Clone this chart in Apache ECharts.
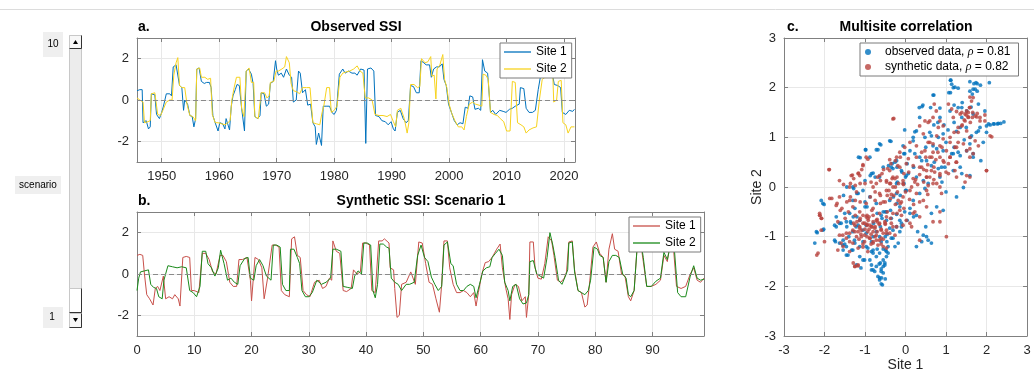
<!DOCTYPE html>
<html>
<head>
<meta charset="utf-8">
<script src="https://cdn.jsdelivr.net/npm/echarts@6/dist/echarts.min.js"></script>
<style>
  html, body { margin: 0; padding: 0; background: #fff; }
  #chart { width: 1034px; height: 371px; }
</style>
</head>
<body>
<div id="chart"></div>
<script>
// observed SSI, [year, value]
const obsSite1 = [[1945.7,0.45],[1946.2,0.5],[1946.6,0.5],[1946.75,-1.1],[1947.3,-1.0],[1947.7,-1.4],[1948.0,-1.3],[1948.2,0.3],[1948.8,0.25],[1949.1,-0.7],[1949.6,-0.9],[1950.0,-0.6],[1950.3,-0.3],[1950.8,0.3],[1951.4,0.3],[1951.7,0.2],[1952.0,1.6],[1952.5,1.7],[1952.8,1.75],[1953.1,0.7],[1953.5,0.6],[1953.8,-0.5],[1954.0,0.0],[1954.5,-0.2],[1954.9,-0.75],[1955.3,-0.8],[1955.6,-1.3],[1955.9,-0.9],[1956.1,1.5],[1956.5,1.55],[1956.9,0.9],[1957.4,0.8],[1957.8,0.85],[1958.3,0.85],[1958.6,0.6],[1958.9,-0.75],[1959.3,-1.1],[1959.8,-1.5],[1960.1,-1.1],[1960.6,-1.15],[1961.0,-1.4],[1961.2,-0.9],[1961.8,-1.45],[1962.1,-0.3],[1962.4,0.2],[1962.8,0.5],[1963.1,0.75],[1963.5,0.7],[1963.9,-0.4],[1964.4,-1.5],[1964.7,1.4],[1965.1,1.5],[1965.6,1.25],[1965.9,0.8],[1966.2,-0.8],[1966.7,-0.9],[1967.1,-0.75],[1967.3,0.35],[1967.8,0.3],[1968.2,-0.3],[1968.6,-0.2],[1968.9,0.8],[1969.4,0.9],[1969.8,1.9],[1970.0,1.5],[1970.3,1.2],[1970.8,1.3],[1971.2,1.1],[1971.7,1.5],[1972.2,1.2],[1972.6,1.1],[1972.9,-0.1],[1973.4,0.0],[1973.8,1.4],[1974.1,1.3],[1974.5,0.35],[1975.0,0.5],[1975.4,-0.25],[1975.9,-0.2],[1976.3,-1.1],[1976.7,-1.3],[1976.9,-2.15],[1977.3,-1.6],[1977.8,-2.2],[1978.1,-0.3],[1978.6,-0.3],[1979.2,-0.3],[1979.6,-0.6],[1980.0,-0.7],[1980.4,-0.5],[1980.9,1.25],[1981.5,1.5],[1981.9,1.3],[1982.5,1.4],[1983.1,1.3],[1983.6,1.3],[1984.0,1.2],[1984.6,1.5],[1985.2,1.45],[1985.5,-2.1],[1985.8,1.5],[1986.4,1.55],[1986.9,1.4],[1987.2,-0.75],[1987.8,-0.8],[1988.3,-1.0],[1988.9,-1.05],[1989.4,-1.2],[1989.9,-1.05],[1990.3,-1.4],[1990.6,-1.5],[1991.0,-0.6],[1991.5,-0.5],[1992.0,-0.9],[1992.5,-1.1],[1992.9,-1.0],[1993.3,0.7],[1993.8,0.65],[1994.3,0.35],[1994.8,0.35],[1995.1,1.9],[1995.6,1.8],[1996.0,1.7],[1996.6,1.7],[1996.9,1.1],[1997.3,1.5],[1997.8,1.6],[1998.3,1.6],[1998.8,1.75],[1999.1,1.0],[1999.5,0.7],[1999.9,-0.2],[2000.4,-0.6],[2000.9,-1.0],[2001.4,-1.2],[2001.9,-1.1],[2002.4,-1.15],[2002.8,-0.35],[2003.3,-0.4],[2003.6,0.2],[2004.1,0.15],[2004.5,-0.45],[2005.1,-0.4],[2005.5,-0.5],[2005.8,1.95],[2006.2,1.4],[2006.7,1.3],[2007.2,-0.6],[2007.6,-0.5],[2008.1,-0.7],[2008.8,-0.5],[2009.4,-0.55],[2009.9,-0.6],[2010.5,-0.45],[2011.0,-0.4],[2011.5,-0.3],[2012.2,-0.2],[2012.4,0.6],[2013.0,0.55],[2013.4,-0.4],[2013.9,-0.6],[2014.5,-0.6],[2015.0,-0.5],[2015.5,0.5],[2015.9,1.15],[2016.6,1.2],[2017.2,1.5],[2017.6,1.9],[2018.0,1.2],[2018.3,0.75],[2018.9,0.7],[2019.4,0.6],[2019.7,-0.6],[2020.3,-0.7],[2020.9,-0.5],[2021.5,-0.55],[2021.8,-0.45]];
const obsSite2 = [[1945.7,0.1],[1946.2,0.0],[1946.75,-0.1],[1947.0,-1.1],[1947.6,-1.05],[1948.0,-1.0],[1948.2,0.3],[1948.8,0.35],[1949.1,0.3],[1949.3,-0.7],[1949.8,-0.75],[1950.2,-0.5],[1950.8,-0.1],[1951.4,0.0],[1951.8,0.0],[1952.1,1.2],[1952.5,1.8],[1952.8,2.05],[1953.1,0.7],[1953.5,0.6],[1954.0,0.6],[1954.4,-0.2],[1954.9,-0.75],[1955.4,-0.8],[1955.9,-1.0],[1956.1,1.5],[1956.6,1.55],[1956.9,1.1],[1957.5,1.1],[1958.0,1.0],[1958.5,1.05],[1958.8,-0.7],[1959.3,-1.1],[1959.8,-1.1],[1960.4,-1.15],[1961.0,-1.2],[1961.5,-1.1],[1961.9,-1.0],[1962.2,0.0],[1962.6,0.6],[1963.0,1.1],[1963.6,1.1],[1963.9,-0.4],[1964.3,-0.8],[1964.7,1.4],[1965.2,1.55],[1965.6,0.85],[1966.0,0.85],[1966.2,-0.8],[1966.8,-0.9],[1967.1,-0.9],[1967.3,0.35],[1967.9,0.35],[1968.3,0.1],[1968.7,0.2],[1968.9,0.85],[1969.5,0.9],[1969.9,1.4],[1970.3,1.4],[1970.9,1.5],[1971.4,1.6],[1971.7,2.1],[1972.2,1.8],[1972.5,0.8],[1972.9,0.45],[1973.5,0.4],[1974.0,0.3],[1974.5,0.6],[1975.2,0.6],[1975.8,0.6],[1976.3,-1.1],[1976.9,-1.15],[1977.5,-1.2],[1977.9,-0.6],[1978.2,-0.3],[1978.7,0.6],[1979.2,0.6],[1979.5,-0.6],[1980.0,-0.5],[1980.5,-0.3],[1981.0,1.1],[1981.5,1.3],[1982.0,1.35],[1982.7,1.4],[1983.4,1.5],[1984.0,1.65],[1984.5,1.4],[1985.0,1.3],[1985.4,0.1],[1986.0,0.1],[1986.6,0.0],[1987.1,-0.7],[1987.8,-0.75],[1988.5,-0.75],[1989.2,-0.8],[1989.8,-0.7],[1990.3,-1.05],[1990.7,-1.3],[1991.0,-0.5],[1991.6,-0.4],[1992.2,-0.9],[1992.7,-1.6],[1993.0,-1.1],[1993.3,0.75],[1993.9,0.75],[1994.5,0.6],[1994.9,0.65],[1995.2,2.0],[1995.8,1.8],[1996.3,1.85],[1996.8,2.1],[1997.0,1.15],[1997.4,1.2],[1997.7,0.05],[1997.9,1.5],[1998.4,1.7],[1998.9,2.2],[1999.2,1.0],[1999.6,0.6],[2000.0,-0.2],[2000.4,-0.6],[2001.0,-1.0],[2001.6,-1.3],[2002.2,-1.3],[2002.6,-1.45],[2003.0,-0.8],[2003.5,-0.2],[2004.1,-0.1],[2004.6,-0.2],[2005.2,-0.25],[2005.7,-0.3],[2005.9,1.25],[2006.4,1.2],[2006.8,1.0],[2007.2,-0.6],[2007.8,-0.7],[2008.4,-0.75],[2008.9,-0.9],[2009.5,-1.05],[2010.0,-1.5],[2010.6,-1.5],[2011.0,0.9],[2011.5,0.85],[2011.9,-1.1],[2012.5,-1.2],[2013.0,-1.3],[2013.4,-1.6],[2013.9,-1.45],[2014.6,-1.35],[2015.2,-1.3],[2015.7,0.0],[2016.2,1.0],[2016.7,1.1],[2017.2,1.5],[2017.6,2.2],[2018.0,1.5],[2018.2,-0.1],[2018.7,0.0],[2019.0,0.9],[2019.5,0.95],[2019.8,-1.1],[2020.3,-1.2],[2020.7,-1.6],[2021.2,-1.3],[2021.8,-1.3]];

// synthetic SSI, scenario 1, [year index, value]
const synSite1 = [[0,0.9],[0.5,0.95],[1.0,0.9],[1.3,0.0],[1.7,-1.0],[2.2,-1.2],[2.8,-1.5],[3.2,-0.7],[3.6,-0.6],[4.0,-0.8],[4.6,-0.1],[5.0,-1.2],[5.6,-1.1],[6.2,-1.2],[6.6,-1.0],[7.2,-1.2],[7.5,-1.55],[8.0,0.8],[8.6,0.85],[9.2,0.8],[9.5,-0.8],[10.0,-0.8],[10.8,-0.9],[11.4,1.0],[12.0,1.0],[12.6,0.7],[13.2,0.1],[13.8,0.0],[14.5,0.9],[15.0,0.9],[15.6,0.6],[16.2,-0.4],[16.8,-0.6],[17.4,-0.6],[17.8,0.7],[18.4,0.7],[19.2,0.8],[19.8,-0.3],[20.0,-1.3],[20.6,0.8],[21.2,0.7],[21.8,0.3],[22.2,-1.2],[22.8,-0.2],[23.6,1.4],[24.2,1.4],[24.8,1.3],[25.2,-0.8],[25.8,-1.0],[26.6,-1.1],[27.0,1.7],[27.5,1.8],[28.0,0.9],[28.5,0.8],[29.0,-0.8],[29.6,-1.0],[30.2,-1.1],[31.0,-0.4],[31.8,-0.3],[32.4,-0.7],[33.0,-0.6],[33.6,-0.2],[34.0,-0.3],[34.2,1.6],[34.8,1.1],[35.4,1.0],[36.0,-0.8],[36.6,-0.85],[37.4,-0.7],[37.8,0.2],[38.4,0.0],[39.0,0.1],[39.4,1.5],[40.0,1.5],[40.6,1.4],[41.0,-0.8],[41.6,-0.9],[42.2,1.6],[42.8,1.6],[43.2,1.7],[44.0,1.5],[44.2,0.3],[44.8,0.2],[45.0,-0.7],[45.4,-2.1],[45.8,-2.0],[46.2,-0.5],[47.0,-0.4],[47.8,0.1],[48.6,-0.5],[49.2,1.55],[49.8,1.5],[50.4,0.5],[51.0,-0.4],[51.6,-0.5],[52.2,-1.2],[52.8,-1.85],[53.2,-0.5],[53.6,1.6],[54.2,1.6],[54.6,0.3],[55.2,-0.5],[55.8,-0.9],[56.4,-0.9],[57.0,-0.8],[57.6,-0.9],[58.2,-1.1],[58.8,-0.9],[59.2,-1.55],[59.6,-0.9],[60.2,0.0],[60.8,0.55],[61.4,0.6],[62.0,0.8],[62.8,1.2],[63.4,1.45],[63.8,0.3],[64.4,-0.7],[64.8,-1.2],[65.1,-2.2],[65.4,-1.0],[66.0,-0.5],[66.6,-0.6],[67.2,-1.3],[67.8,-1.1],[68.0,-2.1],[68.4,-1.0],[68.6,1.55],[69.2,1.55],[69.5,0.3],[70.0,-0.2],[70.6,-0.25],[71.2,0.5],[71.8,1.8],[72.4,1.6],[72.8,0.9],[73.4,-0.3],[74.0,-0.4],[74.6,-0.2],[75.0,0.1],[75.4,1.55],[76.0,1.6],[76.4,0.2],[77.0,-0.8],[77.6,-0.9],[78.2,-1.6],[78.6,-1.5],[79.0,-0.5],[79.6,1.3],[80.2,1.55],[80.8,1.0],[81.4,0.8],[81.9,-0.4],[82.4,1.2],[83.0,1.95],[83.4,1.2],[84.0,1.1],[84.6,0.0],[85.2,-0.1],[85.8,-1.1],[86.2,-1.3],[86.8,-0.8],[87.4,1.6],[87.9,1.6],[88.4,0.6],[89.0,-0.6],[89.8,-0.6],[90.6,-0.5],[91.4,-0.3],[92.0,0.9],[92.6,0.6],[93.2,1.8],[93.6,1.5],[94.2,-0.6],[95.0,-0.7],[95.8,-0.6],[96.6,0.0],[97.2,0.3],[97.8,-0.3],[98.4,-0.4],[99.0,-0.2]];
const synSite2 = [[0,-0.8],[0.3,-0.2],[0.6,0.1],[1.3,0.15],[2.0,0.2],[2.4,-0.5],[2.9,-0.65],[3.4,-0.7],[3.8,-1.1],[4.4,-1.2],[4.7,-0.3],[5.0,0.0],[5.4,0.4],[6.2,0.35],[7.0,0.3],[7.8,0.35],[8.6,0.3],[9.2,-0.8],[9.8,-0.9],[10.4,-1.1],[11.0,-0.6],[11.4,1.1],[12.0,1.1],[12.4,0.5],[13.0,0.3],[13.6,-0.1],[14.2,0.3],[14.6,1.15],[15.2,0.5],[15.8,-0.3],[16.4,-0.2],[17.0,-0.4],[17.6,-0.5],[18.0,0.4],[18.8,0.75],[19.4,0.8],[19.8,-0.2],[20.4,-0.3],[20.8,0.4],[21.4,0.7],[22.0,0.4],[22.6,-0.1],[23.4,-0.3],[23.8,1.4],[24.4,1.4],[25.0,1.3],[25.4,-0.5],[26.0,-0.8],[26.6,-0.8],[26.8,1.2],[27.4,1.2],[28.0,0.8],[28.4,0.5],[28.8,-0.8],[29.4,-1.1],[30.0,-1.1],[30.6,-0.9],[31.4,-0.3],[32.2,-0.5],[33.0,-0.4],[33.8,-0.2],[34.2,1.2],[34.8,1.2],[35.6,1.1],[36.0,-0.6],[36.8,-0.65],[37.6,-0.7],[38.0,-0.1],[38.6,0.15],[39.2,0.0],[39.6,1.5],[40.2,1.5],[40.8,1.4],[41.2,-0.8],[41.6,-1.15],[42.0,-0.5],[42.4,1.45],[43.0,1.45],[43.6,1.3],[44.0,1.25],[44.4,-0.2],[45.0,-0.4],[45.6,-0.5],[46.2,-0.8],[47.0,-0.5],[47.6,-0.5],[48.4,-0.4],[49.0,0.9],[49.6,1.4],[50.2,0.8],[50.8,0.6],[51.4,-0.15],[52.0,-0.5],[52.6,-0.8],[53.2,-0.6],[53.6,1.4],[54.2,1.55],[54.8,0.5],[55.2,0.4],[55.8,-0.5],[56.4,-0.8],[57.0,-0.8],[57.6,-0.6],[58.2,-0.5],[58.8,-0.6],[59.2,-1.15],[59.8,-0.5],[60.4,0.15],[61.0,0.3],[61.6,0.35],[62.0,0.8],[62.6,1.0],[63.2,1.2],[63.8,0.9],[64.2,-0.4],[64.8,-0.8],[65.1,-1.3],[65.6,-0.6],[66.2,-0.5],[66.8,-1.2],[67.4,-1.45],[68.0,-1.4],[68.4,-1.0],[68.6,0.6],[69.2,0.65],[69.8,0.0],[70.4,-0.1],[71.0,-0.2],[71.6,0.8],[72.1,2.0],[72.6,1.4],[73.0,0.8],[73.6,-0.3],[74.2,-0.5],[74.8,-0.1],[75.2,0.2],[75.4,1.5],[76.0,1.55],[76.4,0.1],[77.0,-0.8],[77.6,-0.9],[78.2,-1.0],[78.8,-0.8],[79.2,-0.3],[79.8,1.3],[80.4,1.2],[80.8,0.9],[81.4,0.8],[81.9,-0.4],[82.4,0.6],[83.0,0.9],[83.6,0.9],[84.2,0.8],[84.8,0.0],[85.4,-0.2],[85.8,-1.0],[86.2,-1.1],[86.8,-0.8],[87.4,1.6],[88.0,1.5],[88.4,0.8],[89.0,-0.6],[89.8,-0.6],[90.6,-0.35],[91.4,-0.2],[92.0,1.05],[92.6,0.7],[93.4,1.7],[93.8,1.3],[94.4,-0.9],[95.0,-1.1],[95.8,-1.1],[96.6,-0.1],[97.2,0.4],[97.8,-0.2],[98.4,-0.3],[99.0,-0.25]];

// multisite scatter, [site 1, site 2]
const obsPairs = [[1.11,2.15],[1.59,2.12],[1.74,2.1],[2.07,2.1],[1.3,1.99],[1.07,1.9],[0.7,1.85],[1.67,1.97],[1.77,1.93],[0.41,1.62],[0.62,1.6],[0.85,1.59],[1.1,1.53],[1.51,1.53],[1.96,1.53],[0.35,1.4],[0.85,1.4],[1.39,1.4],[1.67,1.47],[2.05,1.27],[2.17,1.27],[2.29,1.28],[2.43,1.31],[-0.02,1.15],[0.27,1.13],[1.84,1.2],[-0.39,0.93],[0.19,1.0],[0.48,1.0],[1.0,0.9],[1.59,0.87],[1.92,0.9],[-0.64,0.87],[-0.98,0.75],[-0.72,0.75],[-1.16,0.6],[-0.88,0.6],[1.18,0.67],[1.35,0.63],[1.67,0.67],[-0.26,0.5],[-0.02,0.67],[0.11,0.73],[0.4,0.53],[0.71,0.5],[-0.55,0.4],[-0.31,0.37],[0.07,0.27],[0.89,0.4],[1.35,0.4],[1.59,0.23],[-0.84,0.27],[-0.64,0.2],[-1.0,0.13],[-1.3,0.0],[-0.22,0.07],[0.85,0.2],[1.43,-0.01],[1.26,-0.2],[0.64,-0.53],[0.77,-0.4],[0.93,-0.47],[-2.08,-0.27],[-2.04,-0.33],[-2.2,-0.9],[-2.24,-1.13],[-2.04,-0.87],[-1.75,-1.07],[-1.63,-1.13],[-1.54,-1.27],[-1.46,-1.37],[-1.3,-1.27],[-1.13,-1.4],[-1.01,-1.47],[-1.1,-1.63],[-0.84,-1.57],[-0.8,-1.67],[-0.72,-1.6],[-0.68,-1.8],[-0.59,-1.83],[-0.57,-1.97],[-0.55,-1.73],[-0.51,-1.53],[-0.47,-1.4],[-0.47,-1.3],[-0.43,-1.2],[-0.55,-1.47],[-0.64,-1.33],[-0.72,-1.4],[-0.84,-1.3],[-0.97,-1.2],[-1.25,-1.13],[-1.54,-1.07],[-1.71,-0.8],[-1.63,-0.73],[-1.38,-0.53],[-1.25,-0.43],[-1.3,-0.27],[-1.17,-0.13],[-1.05,-0.07],[-0.88,-0.2],[-0.72,-0.33],[-0.55,-0.5],[-0.47,-0.67],[-0.31,-0.87],[-0.22,-0.8],[-0.14,-0.67],[-0.02,-0.5],[0.11,-0.43],[0.19,-0.27],[0.35,-0.13],[0.48,-0.03],[0.52,-1.0],[0.56,-1.07],[0.64,-1.13],[0.44,-0.97],[0.4,-1.1],[0.27,-1.2],[-0.22,-0.13],[-0.39,-0.27],[-0.14,-0.4],[0.02,-0.07],[-1.13,-0.67],[-0.97,-0.77],[-1.22,-0.8],[-1.71,-0.6],[-0.64,-1.0],[-0.35,-1.03],[-0.26,-1.2],[-0.97,-0.93],[-0.6,-1.1],[-0.55,-1.25],[-0.5,-1.0],[-0.45,-0.95],[-0.65,-1.55],[-0.6,-1.65],[-0.5,-1.85],[-0.55,-1.6],[-0.7,-1.25],[-0.8,-1.0],[-1.4,-1.0],[-1.5,-1.15],[-1.3,-0.9],[-1.2,-0.6],[-1.0,-0.4],[-0.3,-0.2],[-0.2,0.1],[0.0,0.2],[0.2,0.4],[0.35,0.6],[0.5,0.8],[0.6,1.1],[0.7,1.25],[0.8,1.3],[0.95,1.25],[1.05,1.15],[1.2,1.3],[1.3,1.6],[1.4,1.7],[1.5,1.2],[1.6,1.0],[1.75,1.1],[0.9,0.1],[1.0,-0.1],[0.3,-0.9],[0.5,-0.8],[0.2,-0.6],[-0.1,-0.8],[1.2,0.8],[1.45,0.95],
  [-0.36,0.92],[-0.61,0.85],[-0.99,0.75],[-1.12,0.59],[-0.68,0.75],[-0.06,0.83],[-0.04,0.67],[-0.33,0.47],[-0.42,0.43],[-0.21,0.4],[0.04,0.47],[-0.8,0.28],[-0.87,0.23],[-0.75,0.2],[-0.09,0.3],[-0.04,0.07],[-1.45,0.0],[-1.28,-0.03],[-1.2,-0.13],[-1.53,-0.17],[-2.01,-0.35],[-1.0,-0.3],[-0.95,-0.4],[-0.7,-0.53],[-0.58,-0.63],[-0.5,-0.5],[-0.37,-0.47],[-0.21,-0.33],[-0.13,-0.17],[0.0,-0.07],[-1.36,-0.7],[-1.45,-0.8],[-2.02,-0.85],[-0.79,-0.73],[-0.62,-0.8],[0.04,-0.67],
  [1.12,2.15],[1.14,2.07],[1.18,2.0],[1.22,2.01],[1.69,2.08],[1.77,2.08],[1.85,2.05],[0.68,1.85],[1.11,1.9],[1.59,1.93],[1.65,1.87],[1.72,1.97],[0.43,1.65],[0.34,1.6],[1.2,1.65],[1.39,1.6],[1.62,1.61],[1.8,1.67],[2.0,1.23],[2.09,1.25],[2.19,1.27],[2.27,1.27],[2.35,1.28],[0.23,1.11],[0.19,0.93],[0.64,1.03],[0.81,1.0],[0.93,1.07],[1.26,1.12],[1.35,1.2],[1.63,1.03],[1.8,1.13],[2.0,1.1],[0.68,0.83],[0.77,0.77],[0.93,0.73],[1.14,0.67],[1.3,0.7],[1.51,0.73],[1.67,0.6],[1.86,0.53],[0.23,0.67],[0.52,0.53],[0.64,0.43],[0.81,0.37],[0.97,0.4],[1.18,0.33],[1.39,0.27],[-0.22,0.53],[-0.35,0.4],[-0.1,0.33],[0.02,0.23],[0.27,0.2],[0.44,0.13],[0.56,0.07],
  [-2.18,-0.92],[-1.75,-0.77],[-1.73,-1.1],[-1.55,-1.17],[-1.46,-1.2],[-1.42,-1.37],[-1.33,-1.27],[-1.26,-1.07],[-1.13,-1.2],[-1.05,-1.47],[-1.21,-1.57],[-0.88,-1.47],[-0.84,-1.67],[-0.76,-1.7],[-0.64,-1.83],[-0.6,-1.7],[-0.51,-1.57],[-0.43,-1.33],[-0.46,-1.1],[-0.49,-1.27],[-0.62,-1.53],[-0.8,-1.33],[-0.6,-1.95],[-0.64,-1.87],[-0.8,-1.27],[-0.93,-1.23],[-1.05,-1.1],[-0.31,-1.03],[-0.18,-1.13],[-0.14,-0.9],[-0.1,-0.73],[-0.39,-0.83],[-0.72,-0.9],[-0.84,-1.1],[-1.46,-0.7],[-1.59,-0.73],[-1.29,-0.6],[-1.5,-0.53],[-1.34,-0.73],[-1.17,-0.77],[-1.05,-0.87],[-0.6,-0.57],[-0.47,-0.5],[-0.35,-0.63],[-0.22,-0.55],[0.11,-0.53],[0.27,-0.57]];
const synPairs = [[-0.31,1.37],[0.56,1.3],[0.85,1.33],[1.18,1.4],[1.35,1.47],[1.59,1.6],[1.67,1.8],[1.51,1.53],[1.55,1.41],[1.76,1.41],[1.84,1.33],[1.96,1.45],[2.13,1.01],[2.0,0.33],[0.77,1.03],[0.93,0.97],[0.68,0.87],[0.85,0.83],[1.01,0.73],[1.26,0.8],[1.51,0.73],[1.67,0.67],[1.59,0.6],[0.48,0.73],[0.27,0.6],[0.02,0.47],[-0.14,0.4],[-0.39,0.33],[-0.64,0.23],[-0.97,0.6],[-1.05,0.43],[-1.17,0.27],[-1.34,0.23],[-1.63,0.13],[-1.89,0.35],[0.4,0.4],[0.64,0.33],[0.85,0.27],[1.06,0.47],[1.22,0.33],[0.52,0.2],[0.19,0.17],[-0.06,0.13],[-0.31,0.2],[-0.47,0.1],[-0.72,0.07],[0.77,0.07],[0.56,0.03],[1.51,0.23],[1.59,0.2],[-2.12,-0.53],[-2.08,-0.63],[-1.87,-0.23],[-1.71,-0.37],[-1.63,-0.2],[-2.19,-1.37],[-2.0,-1.1],[-1.67,-1.27],[-1.54,-1.2],[-1.38,-1.1],[-1.63,-0.97],[-1.46,-0.93],[-1.3,-0.87],[-1.25,-1.6],[-1.17,-1.59],[-1.13,-0.8],[-1.05,-0.73],[-0.92,-0.67],[-0.84,-0.8],[-0.8,-0.9],[-0.72,-0.97],[-0.64,-1.07],[-0.55,-0.93],[-0.47,-0.87],[-0.39,-0.93],[-0.31,-0.8],[-0.8,-1.1],[-0.88,-1.03],[-1.01,-0.97],[-1.09,-0.87],[-1.21,-1.0],[-0.97,-0.6],[-1.13,-0.5],[-1.3,-0.4],[-1.38,-0.27],[-1.38,0.0],[-1.21,-0.1],[-0.97,-0.33],[-0.8,-0.43],[-0.64,-0.53],[-0.47,-0.6],[-0.31,-0.53],[-0.14,-0.47],[-0.18,-0.27],[-0.06,-0.2],[0.11,-0.07],[0.27,-0.13],[0.44,-0.27],[0.52,-0.07],[0.68,0.07],[0.85,0.0],[0.89,-0.13],[0.85,-0.5],[0.85,-0.7],[1.01,-1.0],[0.68,-0.7],[0.35,-1.07],[0.15,-0.8],[0.02,-0.67],[0.19,-0.53],[0.35,-0.6],[0.52,-0.4],[-0.55,-1.2],[-0.47,-1.23],[-0.64,-0.13],[-0.47,-0.07],[-0.8,0.0],[-0.31,0.0],[-0.9,-0.85],[-0.85,-0.95],[-0.75,-0.8],[-0.7,-0.9],[-0.95,-1.0],[-1.0,-0.85],[-0.6,-0.85],[-0.65,-0.75],[-0.8,-0.7],[-0.9,-0.6],[-1.1,-0.95],[-1.15,-1.05],[-0.75,-1.0],[-0.55,-1.05],[-0.6,-1.15],[-0.85,-1.15],[-1.05,-1.15],[-0.95,-0.75],[-0.7,-0.65],[-0.5,-0.75],[-1.2,-0.7],[-1.25,-0.9],[-0.45,-0.5],[-0.25,-0.35],[-0.1,-0.3],[0.0,-0.1],[0.1,-0.25],[0.2,-0.35],[0.3,0.05],[0.35,-0.3],[0.45,0.1],[0.55,-0.15],[0.6,0.2],[0.7,0.4],[0.75,0.55],[0.8,0.7],[0.85,0.6],[0.9,0.8],[0.95,0.5],[0.7,0.15],[0.65,0.6],[0.55,0.45],[0.45,0.35],[0.35,0.25],[0.25,0.15],[0.15,0.0],[-0.05,0.05],[-0.2,-0.1],[-0.35,-0.15],[-0.55,-0.3],[1.1,1.0],[1.2,1.1],[1.3,1.2],[1.45,1.35],[1.5,1.45],[1.6,1.3],[1.55,1.5],[1.4,1.25],[1.65,1.4],[1.0,0.3],[1.1,0.6],[1.25,0.5],[1.3,0.9],[0.6,0.9],[0.5,0.6],
  [-1.88,0.35],[-1.53,0.05],[-1.31,0.24],[-1.16,0.28],[-1.08,0.35],[-1.05,0.45],[-0.93,0.56],[-1.13,0.23],[-1.28,0.17],[-1.36,0.07],[-1.24,0.03],[-1.12,0.07],[-1.0,0.07],[-0.85,0.1],[-0.69,0.2],[-0.58,0.27],[-0.44,0.37],[-0.36,0.47],[-0.25,0.53],[-0.13,0.6],[-0.19,0.43],[-0.39,0.55],[-0.54,0.35],[-0.62,0.13],[-0.47,0.13],[-0.33,0.17],[-0.21,0.2],[-0.04,0.27],[0.08,0.3],[-0.37,0.07],[-0.25,0.0],[-0.17,0.07],[-1.36,-0.2],[-1.24,-0.27],[-1.12,-0.3],[-1.45,-0.3],[-1.57,-0.43],[-1.69,-0.33],[-1.82,-0.23],[-0.87,-0.2],[-0.75,-0.27],[-0.62,-0.33],[-0.5,-0.3],[-0.37,-0.23],[-0.29,-0.17],[-0.45,-0.17],[-0.62,-0.17],[-0.75,-0.1],[-0.41,-0.07],[-0.13,-0.33],[-0.04,-0.43],[-0.21,-0.53],[-0.37,-0.63],[-0.83,-0.47],[-0.95,-0.57],[-1.12,-0.63],[-1.24,-0.57],[-1.41,-0.5],[-1.49,-0.63],[-1.28,-0.73],[-0.95,-0.77],[-0.83,-0.8],[-0.7,-0.7],[-0.5,-0.73],[-1.61,-0.47],[-2.11,-0.57],[-2.07,-0.63],
  [-0.29,1.38],[0.71,1.67],[0.76,1.53],[1.06,1.67],[1.14,1.57],[1.26,1.52],[1.39,1.5],[1.47,1.47],[1.55,1.4],[1.59,1.81],[1.63,1.73],[1.58,1.6],[1.66,1.5],[1.72,1.43],[1.77,1.48],[1.47,1.33],[1.39,1.23],[1.3,1.1],[1.51,1.13],[1.59,1.0],[1.72,0.93],[1.8,0.83],[1.59,0.77],[1.43,0.87],[1.22,0.8],[1.1,0.9],[0.93,1.23],[0.81,1.2],[0.68,1.4],[0.6,1.33],[0.48,1.33],[0.35,1.23],[0.44,1.07],[0.56,0.9],[0.68,0.7],[0.6,0.6],[0.4,0.7],[0.27,0.83],[0.11,0.9],[-0.02,0.8],[-0.14,0.7],[-0.22,0.6],[0.07,0.57],[0.19,0.43],[0.35,0.4],[0.52,0.33],[0.72,0.3],[0.85,0.23],[1.06,0.27],[1.26,0.2],[1.47,0.1],[0.52,0.2],[0.23,0.1],[-0.06,0.07],[-0.26,0.17],[-0.39,0.07],[1.84,1.4],[1.96,1.33],[2.0,0.33],[2.09,1.03],[0.93,0.53],[1.1,0.6],[1.26,0.5],
  [-2.16,-1.33],[-2.12,-0.57],[-2.08,-0.87],[-1.67,-0.7],[-1.55,-0.97],[-1.38,-0.93],[-1.46,-1.03],[-1.59,-1.13],[-1.3,-1.13],[-1.25,-1.6],[-1.17,-1.57],[-1.17,-0.9],[-1.13,-0.67],[-1.05,-0.57],[-0.93,-0.63],[-0.8,-0.57],[-0.72,-0.67],[-0.64,-0.73],[-0.51,-0.7],[-0.35,-0.73],[-0.22,-0.8],[-0.06,-0.77],[0.11,-0.73],[-1.01,-0.73],[-0.88,-0.77],[-0.76,-0.83],[-0.6,-0.87],[-0.47,-0.93],[-0.93,-0.9],[-1.09,-1.0],[-1.01,-1.1],[-0.88,-1.03],[-0.72,-1.07],[-0.6,-1.03],[-0.68,-1.17],[-0.8,-1.13],[-1.13,-0.83],[-1.25,-0.77],[-0.26,-0.97],[-1.29,-1.53],[-0.93,-1.3],[-1.05,-1.21],[-1.17,-1.23],[-1.38,-1.3],[0.23,-0.5],[-0.1,-0.57]];
const corrObs = '0.81';
const corrSyn = '0.82';

// tick labels
const yearTicks = [1950, 1960, 1970, 1980, 1990, 2000, 2010, 2020];
const synTicks = [0, 10, 20, 30, 40, 50, 60, 70, 80, 90];
const ssiTicks = [-2, 0, 2];
const corrTicks = [-3, -2, -1, 0, 1, 2, 3];

const FONT = "'Liberation Sans', Arial, Helvetica, sans-serif";
const TXT = '#262626';
const AX = '#808080';
const GRIDC = '#e8e8e8';

const xAxes = [];
const yAxes = [];
// one grid -> bottom + top x axes, left + right y axes (box style)
function addAxes(gi, xr, xt, yr, yt, xName, yName) {
  const line = { show: true, onZero: false, lineStyle: { color: AX, width: 1 } };
  const tick = vals => ({ show: true, inside: true, length: 4, customValues: vals, lineStyle: { color: AX } });
  const label = vals => ({ show: true, customValues: vals, color: TXT, fontSize: 13, fontFamily: FONT, margin: 8,
    formatter: v => String(v) });
  const split = { show: true, lineStyle: { color: GRIDC, width: 1 } };
  xAxes.push({
    type: 'value', gridIndex: gi, position: 'bottom', min: xr[0], max: xr[1],
    axisLine: line, axisTick: tick(xt), axisLabel: label(xt), splitLine: split,
    name: xName || '', nameLocation: 'middle', nameGap: 22, nameMoveOverlap: false,
    nameTextStyle: { color: TXT, fontSize: 14, fontFamily: FONT }
  });
  xAxes.push({
    type: 'value', gridIndex: gi, position: 'top', min: xr[0], max: xr[1],
    axisLine: line, axisTick: tick(xt), axisLabel: { show: false }, splitLine: { show: false }
  });
  yAxes.push({
    type: 'value', gridIndex: gi, position: 'left', min: yr[0], max: yr[1],
    axisLine: line, axisTick: tick(yt), axisLabel: label(yt), splitLine: split,
    name: yName || '', nameLocation: 'middle', nameGap: 20, nameMoveOverlap: false,
    nameTextStyle: { color: TXT, fontSize: 14, fontFamily: FONT }
  });
  yAxes.push({
    type: 'value', gridIndex: gi, position: 'right', min: yr[0], max: yr[1],
    axisLine: line, axisTick: tick(yt), axisLabel: { show: false }, splitLine: { show: false }
  });
}
addAxes(0, [1945.7, 2021.9], yearTicks, [-3, 3], ssiTicks);
addAxes(1, [0, 99], synTicks, [-3, 3], ssiTicks);
addAxes(2, [-3, 3], corrTicks, [-3, 3], corrTicks, 'Site 1', 'Site 2');

const zeroLine = {
  silent: true, symbol: 'none', label: { show: false },
  lineStyle: { color: '#8a8a8a', type: [5, 3], width: 1.2 },
  data: [{ yAxis: 0 }]
};
const lineSeries = (name, data, color, xi, withZero) => ({
  name, type: 'line', data, xAxisIndex: xi, yAxisIndex: xi,
  symbol: 'none', color, lineStyle: { color, width: 1 },
  markLine: withZero ? zeroLine : undefined, z: 3
});

const titleStyle = { fontFamily: FONT, fontSize: 14, fontWeight: 'bold', color: '#000' };
const legendBox = {
  orient: 'vertical', backgroundColor: '#fff', borderColor: '#7a7a7a', borderWidth: 1,
  borderRadius: 0, padding: [3, 5, 3, 4], itemGap: 1,
  textStyle: { fontFamily: FONT, fontSize: 12, color: '#000' }
};
const lineLegend = { icon: 'rect', itemWidth: 27, itemHeight: 1.3 };

const slider = [
  { type: 'line', shape: { x1: 0, y1: 9.5, x2: 1034, y2: 9.5 }, style: { stroke: '#dcdcdc', lineWidth: 1 } },
  { type: 'rect', shape: { x: 43, y: 32, width: 20, height: 25 }, style: { fill: '#efefef' } },
  { type: 'text', style: { text: '10', x: 53, y: 44, align: 'center', verticalAlign: 'middle', fontSize: 10, fontFamily: FONT, fill: '#000' } },
  { type: 'rect', shape: { x: 15, y: 176, width: 46, height: 18 }, style: { fill: '#efefef' } },
  { type: 'text', style: { text: 'scenario', x: 38, y: 185, align: 'center', verticalAlign: 'middle', fontSize: 10, fontFamily: FONT, fill: '#000' } },
  { type: 'rect', shape: { x: 43, y: 307, width: 20, height: 21 }, style: { fill: '#efefef' } },
  { type: 'text', style: { text: '1', x: 52, y: 317, align: 'center', verticalAlign: 'middle', fontSize: 10, fontFamily: FONT, fill: '#000' } },
  { type: 'rect', shape: { x: 69.5, y: 35.5, width: 12, height: 292 }, style: { fill: '#ececec', stroke: '#c8c8c8', lineWidth: 1 } },
  { type: 'rect', shape: { x: 69.5, y: 288.5, width: 12, height: 24 }, style: { fill: '#ffffff', stroke: '#c8c8c8', lineWidth: 1 } },
  { type: 'polyline', shape: { points: [[81.5, 288.5], [81.5, 312.5], [69.5, 312.5]] }, style: { stroke: '#333', lineWidth: 1, fill: null } },
  { type: 'rect', shape: { x: 69.5, y: 35.5, width: 12, height: 13 }, style: { fill: '#f7f7f7', stroke: '#c8c8c8', lineWidth: 1 } },
  { type: 'polyline', shape: { points: [[81.5, 35.5], [81.5, 48.5], [69.5, 48.5]] }, style: { stroke: '#333', lineWidth: 1, fill: null } },
  { type: 'polygon', shape: { points: [[73, 44], [78, 44], [75.5, 40]] }, style: { fill: '#000' } },
  { type: 'rect', shape: { x: 69.5, y: 313.5, width: 12, height: 14 }, style: { fill: '#f7f7f7', stroke: '#c8c8c8', lineWidth: 1 } },
  { type: 'polyline', shape: { points: [[81.5, 313.5], [81.5, 327.5], [69.5, 327.5]] }, style: { stroke: '#333', lineWidth: 1, fill: null } },
  { type: 'polygon', shape: { points: [[73, 318], [78, 318], [75.5, 322]] }, style: { fill: '#000' } }
];

const chart = echarts.init(document.getElementById('chart'), null, { renderer: 'canvas' });
chart.setOption({
  animation: false,
  backgroundColor: '#fff',
  textStyle: { fontFamily: FONT },
  title: [
    { text: 'Observed SSI', left: 356, top: 20, textAlign: 'center', padding: 0, textStyle: titleStyle },
    { text: 'a.', left: 138, top: 20, padding: 0, textStyle: titleStyle },
    { text: 'Synthetic SSI: Scenario 1', left: 421, top: 194, textAlign: 'center', padding: 0, textStyle: titleStyle },
    { text: 'b.', left: 138, top: 194, padding: 0, textStyle: titleStyle },
    { text: 'Multisite correlation', left: 906, top: 20, textAlign: 'center', padding: 0, textStyle: titleStyle },
    { text: 'c.', left: 787, top: 20, padding: 0, textStyle: titleStyle }
  ],
  grid: [
    { left: 137, top: 38, width: 438, height: 124, outerBoundsMode: 'none', containLabel: false },
    { left: 137, top: 212, width: 567, height: 124, outerBoundsMode: 'none', containLabel: false },
    { left: 784, top: 38, width: 243, height: 298, outerBoundsMode: 'none', containLabel: false }
  ],
  xAxis: xAxes,
  yAxis: yAxes,
  legend: [
    { ...legendBox, ...lineLegend, left: 500, top: 43, itemGap: 5, data: ['Site 1', 'Site 2'] },
    { ...legendBox, ...lineLegend, left: 629, top: 217, itemGap: 5, data: ['syn Site 1', 'syn Site 2'],
      formatter: n => n.replace('syn ', '') },
    { ...legendBox, left: 860, top: 43, itemWidth: 24, itemHeight: 6, icon: 'circle', padding: [3, 8, 3, 5],
      itemGap: 3,
      data: ['observed data', 'synthetic data'],
      formatter: n => n === 'observed data' ? 'observed data, {i|ρ} = ' + corrObs : 'synthetic data, {i|ρ} = ' + corrSyn,
      textStyle: { fontFamily: FONT, fontSize: 12, color: '#000',
        rich: { i: { fontStyle: 'italic', fontFamily: "'Liberation Serif', serif", fontSize: 12 } } } }
  ],
  series: [
    lineSeries('Site 1', obsSite1, '#0072BD', 0, true),
    lineSeries('Site 2', obsSite2, '#F7D31E', 0, false),
    lineSeries('syn Site 1', synSite1, '#C8504A', 2, true),
    lineSeries('syn Site 2', synSite2, '#1A8A1A', 2, false),
    { name: 'observed data', type: 'scatter', data: obsPairs, xAxisIndex: 4, yAxisIndex: 4,
      symbolSize: 3.8, itemStyle: { color: '#0072BD' } },
    { name: 'synthetic data', type: 'scatter', data: synPairs, xAxisIndex: 4, yAxisIndex: 4,
      symbolSize: 3.8, itemStyle: { color: '#B8433E' } }
  ],
  graphic: slider
});
</script>
</body>
</html>
